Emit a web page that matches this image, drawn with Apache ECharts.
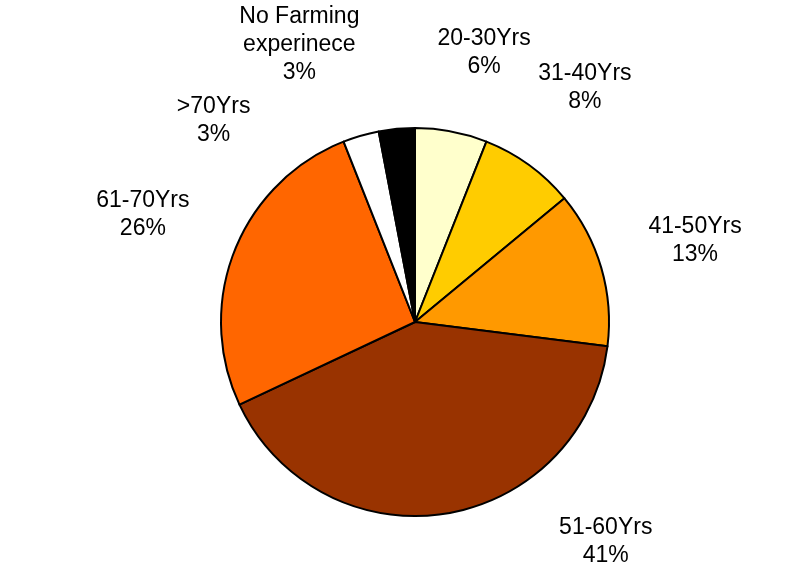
<!DOCTYPE html>
<html>
<head>
<meta charset="utf-8">
<script src="https://cdn.jsdelivr.net/npm/echarts@6/dist/echarts.min.js"></script>
<style>
  html, body { margin: 0; padding: 0; background: #ffffff; }
  #chart { width: 799px; height: 572px; }
</style>
</head>
<body>
<div id="chart"></div>
<script>
// Farming experience of respondents, by age group (percent)
const categories = ['20-30Yrs', '31-40Yrs', '41-50Yrs', '51-60Yrs', '61-70Yrs', '>70Yrs', 'No Farming\nexperinece'];
const shares = [6, 8, 13, 41, 26, 3, 3];
const sliceColors = ['#FFFFCC', '#FFCC00', '#FF9900', '#993300', '#FF6600', '#FFFFFF', '#000000'];

const W = 799, H = 572;
const CX = 415, CY = 322, R = 194;
const FONT_SIZE = 23, LINE_H = 28;
const FONT_FAMILY = "'Liberation Sans', Arial, Helvetica, sans-serif";
const GAP = 45, PAD = 6, MARGIN = 2;

function labelText(i) { return categories[i] + '\n' + shares[i] + '%'; }

// Size of each label block
const measureCtx = document.createElement('canvas').getContext('2d');
measureCtx.font = FONT_SIZE + 'px ' + FONT_FAMILY;
const boxes = categories.map((c, i) => {
  const lines = labelText(i).split('\n');
  return {
    w: Math.max.apply(null, lines.map(l => measureCtx.measureText(l).width)),
    h: lines.length * LINE_H
  };
});

// Mid angle of each slice, clockwise from 12 o'clock
const total = shares.reduce((a, b) => a + b, 0);
let acc = 0;
const angles = shares.map(v => {
  const a = (acc + v / 2) / total * 2 * Math.PI;
  acc += v;
  return a;
});

// Label block centred outside the rim, its near edge GAP px away
function place(th, b) {
  const ux = Math.sin(th), uy = -Math.cos(th);
  const d = R + GAP + Math.abs(ux) * b.w / 2 + Math.abs(uy) * b.h / 2;
  const x = CX + ux * d, y = CY + uy * d;
  return { x: x, y: y, l: x - b.w / 2, r: x + b.w / 2, t: y - b.h / 2, b: y + b.h / 2 };
}
function wrapDiff(a) {
  a = a % (2 * Math.PI);
  if (a > Math.PI) a -= 2 * Math.PI;
  if (a <= -Math.PI) a += 2 * Math.PI;
  return a;
}
const STEP = 0.2 * Math.PI / 180;
function towards(th, target) {
  const d = wrapDiff(target - th);
  return th + Math.sign(d) * Math.min(STEP, Math.abs(d));
}
function nearest(th, opts) {
  let best = opts[0];
  opts.forEach(o => { if (Math.abs(wrapDiff(o - th)) < Math.abs(wrapDiff(best - th))) best = o; });
  return best;
}
function overlaps(a, b) {
  return a.l < b.r + PAD && b.l < a.r + PAD && a.t < b.b + PAD && b.t < a.b + PAD;
}

// Spread labels around the rim until none collide or leave the canvas
for (let iter = 0; iter < 4000; iter++) {
  let moved = false;
  const rects = angles.map((th, i) => place(th, boxes[i]));
  for (let i = 0; i < rects.length; i++) {
    for (let j = i + 1; j < rects.length; j++) {
      if (overlaps(rects[i], rects[j])) {
        const s = wrapDiff(angles[j] - angles[i]) >= 0 ? 1 : -1;
        angles[i] -= s * STEP;
        angles[j] += s * STEP;
        moved = true;
      }
    }
  }
  rects.forEach((r, i) => {
    if (r.b > H - MARGIN || r.t < MARGIN) {
      angles[i] = towards(angles[i], nearest(angles[i], [Math.PI / 2, 3 * Math.PI / 2]));
      moved = true;
    }
    if (r.l < MARGIN || r.r > W - MARGIN) {
      angles[i] = towards(angles[i], nearest(angles[i], [0, Math.PI]));
      moved = true;
    }
  });
  if (!moved) break;
}
const labelSpots = angles.map((th, i) => place(th, boxes[i]));

const chart = echarts.init(document.getElementById('chart'), null, { renderer: 'canvas' });
chart.setOption({
  backgroundColor: '#ffffff',
  animation: false,
  series: [{
    type: 'pie',
    center: [CX, CY],
    radius: R,
    startAngle: 90,
    clockwise: true,
    avoidLabelOverlap: false,
    silent: true,
    data: categories.map((name, i) => ({
      name: name,
      value: shares[i],
      itemStyle: { color: sliceColors[i] }
    })),
    itemStyle: { borderColor: '#000000', borderWidth: 2 },
    label: {
      show: true,
      position: 'outside',
      formatter: p => p.name + '\n' + p.value + '%',
      fontFamily: FONT_FAMILY,
      fontSize: FONT_SIZE,
      lineHeight: LINE_H,
      color: '#000000'
    },
    labelLine: { show: false },
    labelLayout: params => {
      const s = labelSpots[params.dataIndex];
      return { x: s.x, y: s.y, align: 'center', verticalAlign: 'middle' };
    },
    emphasis: { disabled: true }
  }]
});
</script>
</body>
</html>
